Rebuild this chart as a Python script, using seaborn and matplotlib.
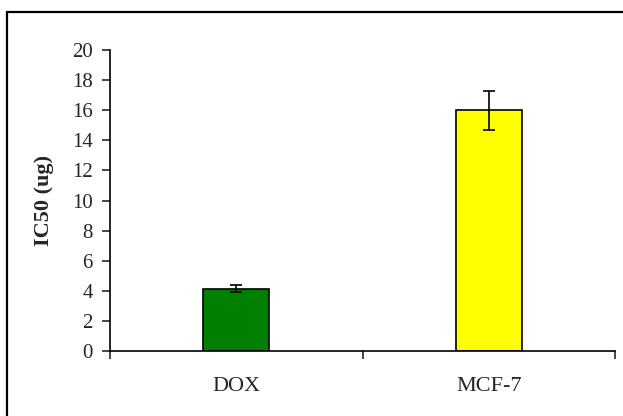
import matplotlib
matplotlib.use('Agg')
import matplotlib.pyplot as plt
import seaborn as sns
from matplotlib.patches import Rectangle
from matplotlib.ticker import FixedLocator

# data
cells = ['DOX', 'MCF-7']
ic50 = [4.15, 16.0]
ic50_err = [0.22, 1.3]
bar_colors = ['#008000', '#FFFF00']

sns.set_style('white')
plt.rcParams['font.family'] = ['Liberation Serif', 'DejaVu Serif']

fig = plt.figure(figsize=(6.23, 4.16), dpi=100)
ax = fig.add_axes([110 / 623, 1 - 351 / 416, 505 / 623, 301 / 416])

sns.barplot(x=cells, y=ic50, hue=cells, palette=bar_colors, saturation=1,
            legend=False, errorbar=None, width=0.26, edgecolor='black',
            linewidth=1.2, ax=ax)
ax.errorbar(cells, ic50, yerr=ic50_err, fmt='none', ecolor='black',
            elinewidth=1.2, capsize=4, capthick=1.2)

ax.set_xlim(-0.5, 1.5)
ax.set_ylim(0, 20)
ax.set_yticks(range(0, 21, 2))
ax.set_ylabel('IC50 (ug)', fontsize=16, fontweight='bold')
ax.yaxis.set_label_coords(-0.11, 0.5)

# Excel-style: ticks between categories, labels at centres
ax.xaxis.set_minor_locator(FixedLocator([-0.5, 0.5, 1.5]))
ax.tick_params(axis='x', which='major', length=0, pad=19, labelsize=16)
ax.tick_params(axis='x', which='minor', direction='out', length=5.5, width=1.2, bottom=True)
ax.tick_params(axis='y', direction='out', length=5.5, width=1.2, pad=7, labelsize=15, left=True)

for s in ['top', 'right']:
    ax.spines[s].set_visible(False)
for s in ['left', 'bottom']:
    ax.spines[s].set_color('black')
    ax.spines[s].set_linewidth(1.2)

# outer chart border (only top/left visible in the reference crop)
fig.patches.append(Rectangle((7 / 623, -0.05), 1.1, 1.05 - 12 / 416,
                             transform=fig.transFigure, fill=False,
                             edgecolor='black', linewidth=1.6))

fig.savefig('out.png', dpi=100)
